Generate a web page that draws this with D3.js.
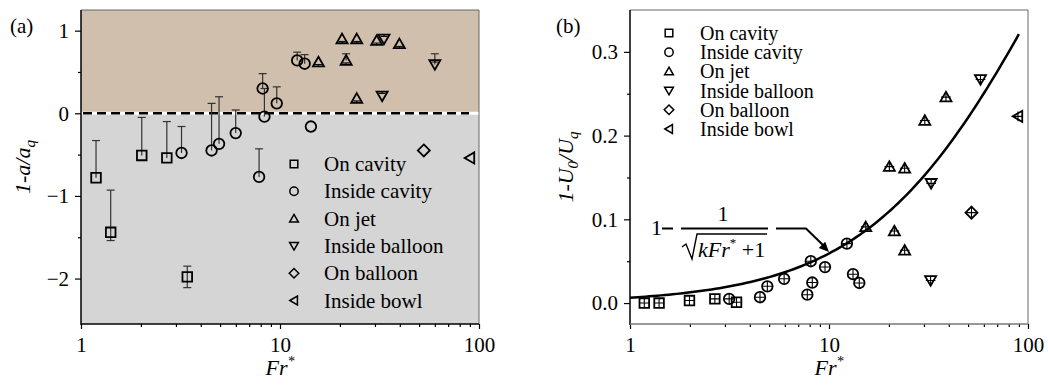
<!DOCTYPE html>
<html>
<head>
<meta charset="utf-8">
<script src="https://cdnjs.cloudflare.com/ajax/libs/d3/7.8.5/d3.min.js"></script>
<style>
  body { margin: 0; background: #fff; }
  svg text { font-family: "Liberation Serif", "Times New Roman", Times, serif !important; fill: #000; }
</style>
</head>
<body>
<svg id="chart" width="1048" height="385"></svg>
<script>
// ---- panel (a): 1 - a/a_q ----
const aOnCavityFr = [1.19, 1.41, 2.02, 2.70, 3.42];
const aOnCavityY = [-0.78, -1.44, -0.51, -0.54, -1.98];
const aOnCavityHi = [-0.33, -0.93, -0.05, -0.10, -1.85];
const aOnCavityLo = [null, -1.54, null, null, -2.11];

const aInsideCavityFr = [3.2, 4.53, 4.94, 5.99, 7.85, 8.18, 8.35, 9.63, 12.2, 13.3, 14.3];
const aInsideCavityY = [-0.48, -0.45, -0.37, -0.24, -0.77, 0.30, -0.04, 0.12, 0.64, 0.60, -0.16];
const aInsideCavityHi = [-0.16, 0.12, 0.20, 0.04, -0.43, 0.48, 0.30, 0.32, 0.74, 0.71, null];

const aOnJetFr = [15.6, 20.5, 21.5, 24.3, 24.3, 30.6, 39.8];
const aOnJetY = [0.62, 0.90, 0.64, 0.90, 0.18, 0.88, 0.84];
const aOnJetHi = [null, null, 0.72, null, null, null, null];

const aInsideBalloonFr = [32.6, 33.3, 60];
const aInsideBalloonY = [0.21, 0.90, 0.59];
const aInsideBalloonHi = [null, null, 0.72];

const aOnBalloonFr = [52.8];
const aOnBalloonY = [-0.45];
const aInsideBowlFr = [90];
const aInsideBowlY = [-0.54];

// ---- panel (b): 1 - U0/U_q ----
const bOnCavityFr = [1.18, 1.40, 1.99, 2.67, 3.43];
const bOnCavityY = [0.000, 0.000, 0.003, 0.005, 0.001];
const bInsideCavityFr = [3.15, 4.5, 4.9, 5.95, 7.78, 8.1, 8.24, 9.55, 12.3, 13.2, 14.2];
const bInsideCavityY = [0.005, 0.007, 0.020, 0.029, 0.010, 0.050, 0.0245, 0.043, 0.071, 0.0345, 0.024];
const bOnJetFr = [15.3, 20.1, 21.3, 24.0, 24.0, 30.3, 38.7];
const bOnJetY = [0.091, 0.163, 0.086, 0.161, 0.063, 0.218, 0.246];
const bInsideBalloonFr = [32.4, 32.6, 57.7];
const bInsideBalloonY = [0.027, 0.143, 0.267];
const bOnBalloonFr = [52];
const bOnBalloonY = [0.108];
const bInsideBowlFr = [89];
const bInsideBowlY = [0.223];

const kFit = 0.013;
const fitRange = [1, 90];

const legendNames = ["On cavity", "Inside cavity", "On jet", "Inside balloon", "On balloon", "Inside bowl"];
const shapes = ["square", "circle", "up", "down", "diamond", "left"];

const aYTicks = [-2, -1, 0, 1];
const aYMinor = [-1.5, -0.5, 0.5];
const bYTicks = [0, 0.1, 0.2, 0.3];
const bYMinor = [0.05, 0.15, 0.25];
const xTicks = [1, 10, 100];
const xMinor = [2, 3, 4, 5, 6, 7, 8, 9, 20, 30, 40, 50, 60, 70, 80, 90];

const SERIF = "Liberation Serif";
const svg = d3.select("#chart");

// marker path, centred on 0,0, size s = half width
function markerPath(shape, s) {
  const p = d3.path();
  if (shape === "square") { p.rect(-s, -s, 2 * s, 2 * s); }
  else if (shape === "circle") { p.arc(0, 0, s * 1.1, 0, 2 * Math.PI); }
  else if (shape === "up") { p.moveTo(0, -s * 1.1); p.lineTo(s * 1.15, s * 0.9); p.lineTo(-s * 1.15, s * 0.9); p.closePath(); }
  else if (shape === "down") { p.moveTo(0, s * 1.1); p.lineTo(s * 1.15, -s * 0.9); p.lineTo(-s * 1.15, -s * 0.9); p.closePath(); }
  else if (shape === "diamond") { p.moveTo(0, -s * 1.25); p.lineTo(s * 1.25, 0); p.lineTo(0, s * 1.25); p.lineTo(-s * 1.25, 0); p.closePath(); }
  else if (shape === "left") { p.moveTo(-s * 1.1, 0); p.lineTo(s * 0.9, -s * 1.15); p.lineTo(s * 0.9, s * 1.15); p.closePath(); }
  return p.toString();
}

function cross(s) {
  return `M${-s},0H${s}M0,${-s}V${s}`;
}

function drawPanel(cfg) {
  const x = d3.scaleLog().domain([1, 100]).range([cfg.left, cfg.right]);
  const y = d3.scaleLinear().domain(cfg.yDomain).range([324, 10]);
  const g = svg.append("g");

  if (cfg.shade) {
    g.append("rect").attr("x", cfg.left).attr("y", y(cfg.yDomain[1]))
      .attr("width", cfg.right - cfg.left).attr("height", y(0) - y(cfg.yDomain[1]))
      .attr("fill", "#cfbfac");
    g.append("rect").attr("x", cfg.left).attr("y", y(0))
      .attr("width", cfg.right - cfg.left).attr("height", y(cfg.yDomain[0]) - y(0))
      .attr("fill", "#d5d5d5");
    g.append("line").attr("x1", cfg.left).attr("x2", cfg.right)
      .attr("y1", y(0)).attr("y2", y(0))
      .attr("stroke", "#fff").attr("stroke-width", 3);
    g.append("line").attr("x1", cfg.left + 2).attr("x2", cfg.right - 10)
      .attr("y1", y(0)).attr("y2", y(0))
      .attr("stroke", "#000").attr("stroke-width", 2.5).attr("stroke-dasharray", "9,5");
  }

  // frame (top / right)
  g.append("path")
    .attr("d", `M${cfg.left},10H${cfg.right}V324`)
    .attr("fill", "none").attr("stroke", "#666").attr("stroke-width", 1);

  // axes
  const yAxis = d3.axisLeft(y).tickValues(cfg.yTicks).tickSize(6).tickPadding(6)
    .tickFormat(cfg.yFormat);
  const ya = g.append("g").attr("transform", `translate(${cfg.left},0)`).call(yAxis);
  ya.select(".domain").remove();
  g.append("line").attr("x1", cfg.left).attr("x2", cfg.left).attr("y1", 10).attr("y2", 325)
    .attr("stroke", "#000").attr("stroke-width", 1.5);
  g.append("g").attr("transform", `translate(${cfg.left},0)`)
    .call(d3.axisLeft(y).tickValues(cfg.yMinor).tickSize(3).tickFormat(""))
    .select(".domain").remove();

  const xa = g.append("g").attr("transform", "translate(0,324)")
    .call(d3.axisBottom(x).tickValues(xTicks).tickSize(5).tickPadding(8).tickFormat(d3.format("d")));
  xa.select(".domain").remove();
  g.append("g").attr("transform", "translate(0,324)")
    .call(d3.axisBottom(x).tickValues(xMinor).tickSize(3).tickFormat(""))
    .select(".domain").remove();
  g.append("line").attr("x1", cfg.left).attr("x2", cfg.right).attr("y1", 324).attr("y2", 324)
    .attr("stroke", cfg.bottomColor).attr("stroke-width", 1.5);

  g.selectAll("g").attr("font-family", SERIF);
  g.selectAll(".tick text").attr("font-size", 21);
  g.selectAll(".tick line").attr("stroke", "#000").attr("stroke-width", 1.2);

  // fitted curve
  if (cfg.fit) {
    const pts = d3.range(0, 1.0001, 0.01).map(t => {
      const fr = Math.pow(10, Math.log10(fitRange[0]) + t * (Math.log10(fitRange[1]) - Math.log10(fitRange[0])));
      return [fr, 1 - 1 / Math.sqrt(kFit * fr + 1)];
    });
    g.append("path").datum(pts)
      .attr("d", d3.line().x(d => x(d[0])).y(d => y(d[1])))
      .attr("fill", "none").attr("stroke", "#000").attr("stroke-width", 2.5);
  }

  // error bars
  cfg.series.forEach(s => {
    s.fr.forEach((fr, i) => {
      const cx = x(fr);
      [s.hi ? s.hi[i] : null, s.lo ? s.lo[i] : null].forEach(v => {
        if (v === null || v === undefined) return;
        g.append("line").attr("x1", cx).attr("x2", cx)
          .attr("y1", y(s.y[i])).attr("y2", y(v))
          .attr("stroke", "#333").attr("stroke-width", 1.2);
        g.append("line").attr("x1", cx - 4).attr("x2", cx + 4)
          .attr("y1", y(v)).attr("y2", y(v))
          .attr("stroke", "#333").attr("stroke-width", 1.2);
      });
    });
  });

  // markers
  cfg.series.forEach((s, k) => {
    s.fr.forEach((fr, i) => {
      const mg = g.append("g").attr("transform", `translate(${x(fr)},${y(s.y[i])})`);
      mg.append("path").attr("d", markerPath(shapes[k], 4.8))
        .attr("fill", "none").attr("stroke", "#000").attr("stroke-width", 1.8);
      if (cfg.crossed) {
        mg.append("path").attr("d", cross(4.8)).attr("stroke", "#000").attr("stroke-width", 1.1);
      } else if (shapes[k] === "up" || shapes[k] === "down") {
        const yy = shapes[k] === "up" ? 2.5 : -2.5;
        mg.append("path").attr("d", `M-3.5,${yy}H3.5M0,${yy}V${shapes[k] === "up" ? 4.3 : -4.3}`)
          .attr("stroke", "#000").attr("stroke-width", 1);
      }
    });
  });

  // legend
  legendNames.forEach((name, k) => {
    const ly = cfg.legend.y0 + k * cfg.legend.dy;
    g.append("path").attr("transform", `translate(${cfg.legend.mx},${ly})`)
      .attr("d", markerPath(shapes[k], 3.8))
      .attr("fill", "none").attr("stroke", "#000").attr("stroke-width", 1.5);
    g.append("text").attr("x", cfg.legend.tx).attr("y", ly + 7)
      .attr("font-family", SERIF).attr("font-size", cfg.legend.fs).text(name);
  });

  // panel letter
  g.append("text").attr("x", cfg.letterX).attr("y", 33).attr("font-family", SERIF)
    .attr("font-size", 21).text(cfg.letter);

  // x label
  const xl = g.append("text").attr("x", x(10)).attr("y", 375).attr("text-anchor", "middle")
    .attr("font-family", SERIF).attr("font-size", 22).attr("font-style", "italic");
  xl.append("tspan").text("Fr");
  xl.append("tspan").attr("font-size", 14).attr("dy", -9).text("*");

  // y label
  const yl = g.append("text").attr("transform", `translate(${cfg.yLabelX},167) rotate(-90)`)
    .attr("text-anchor", "middle").attr("font-family", SERIF)
    .attr("font-size", 22).attr("font-style", "italic");
  cfg.yLabel.forEach(part => {
    const t = yl.append("tspan").text(part.t);
    if (part.sub) t.attr("font-size", 15).attr("dy", 5);
    if (part.up) t.attr("dy", -5);
  });

  return { x, y, g };
}

drawPanel({
  left: 81, right: 479, yDomain: [-2.55, 1.25], shade: true,
  yTicks: aYTicks, yMinor: aYMinor, yFormat: d3.format("d"), bottomColor: "#000",
  series: [
    { fr: aOnCavityFr, y: aOnCavityY, hi: aOnCavityHi, lo: aOnCavityLo },
    { fr: aInsideCavityFr, y: aInsideCavityY, hi: aInsideCavityHi },
    { fr: aOnJetFr, y: aOnJetY, hi: aOnJetHi },
    { fr: aInsideBalloonFr, y: aInsideBalloonY, hi: aInsideBalloonHi },
    { fr: aOnBalloonFr, y: aOnBalloonY },
    { fr: aInsideBowlFr, y: aInsideBowlY }
  ],
  legend: { mx: 294, tx: 324, y0: 164, dy: 27.3, fs: 21 },
  letter: "(a)", letterX: 10, yLabelX: 30,
  yLabel: [{ t: "1-a/a" }, { t: "q", sub: true }]
});

const pb = drawPanel({
  left: 630, right: 1028, yDomain: [-0.025, 0.35], shade: false, fit: true, crossed: true,
  yTicks: bYTicks, yMinor: bYMinor, yFormat: d3.format(".1f"), bottomColor: "#777",
  series: [
    { fr: bOnCavityFr, y: bOnCavityY },
    { fr: bInsideCavityFr, y: bInsideCavityY },
    { fr: bOnJetFr, y: bOnJetY },
    { fr: bInsideBalloonFr, y: bInsideBalloonY },
    { fr: bOnBalloonFr, y: bOnBalloonY },
    { fr: bInsideBowlFr, y: bInsideBowlY }
  ],
  legend: { mx: 669, tx: 700, y0: 33, dy: 19.2, fs: 20 },
  letter: "(b)", letterX: 556, yLabelX: 573,
  yLabel: [{ t: "1-U" }, { t: "0", sub: true }, { t: "/U", up: true }, { t: "q", sub: true }]
});

// formula annotation in (b)
const fg = pb.g.append("g").attr("font-family", SERIF);
fg.append("text").attr("x", 651).attr("y", 235).attr("font-size", 22).text("1");
fg.append("line").attr("x1", 662).attr("x2", 673).attr("y1", 228.5).attr("y2", 228.5)
  .attr("stroke", "#000").attr("stroke-width", 2);
fg.append("line").attr("x1", 681).attr("x2", 768).attr("y1", 228.5).attr("y2", 228.5)
  .attr("stroke", "#000").attr("stroke-width", 2);
fg.append("text").attr("x", 723).attr("y", 221).attr("text-anchor", "middle").attr("font-size", 22).text("1");
fg.append("path").attr("d", "M682,247 L686,244 L692,259 L697,234 H767")
  .attr("fill", "none").attr("stroke", "#000").attr("stroke-width", 1.4);
const den = fg.append("text").attr("x", 698).attr("y", 257).attr("font-size", 22);
den.append("tspan").attr("font-style", "italic").text("kFr");
den.append("tspan").attr("font-size", 13).attr("dy", -10).text("*");
den.append("tspan").attr("dy", 10).text(" +1");
// leader arrow
const tip = [829, 252];
fg.append("path").attr("d", `M776,228.5 H806 L${tip[0] - 3},${tip[1] - 4}`)
  .attr("fill", "none").attr("stroke", "#000").attr("stroke-width", 2);
const ang = Math.atan2(tip[1] - 228.5, tip[0] - 806);
const ah = 10, aw = 4.5;
const bx = tip[0] - ah * Math.cos(ang), by = tip[1] - ah * Math.sin(ang);
fg.append("path")
  .attr("d", `M${tip[0]},${tip[1]} L${bx + aw * Math.sin(ang)},${by - aw * Math.cos(ang)} L${bx - aw * Math.sin(ang)},${by + aw * Math.cos(ang)} Z`)
  .attr("fill", "#000");
</script>
</body>
</html>
